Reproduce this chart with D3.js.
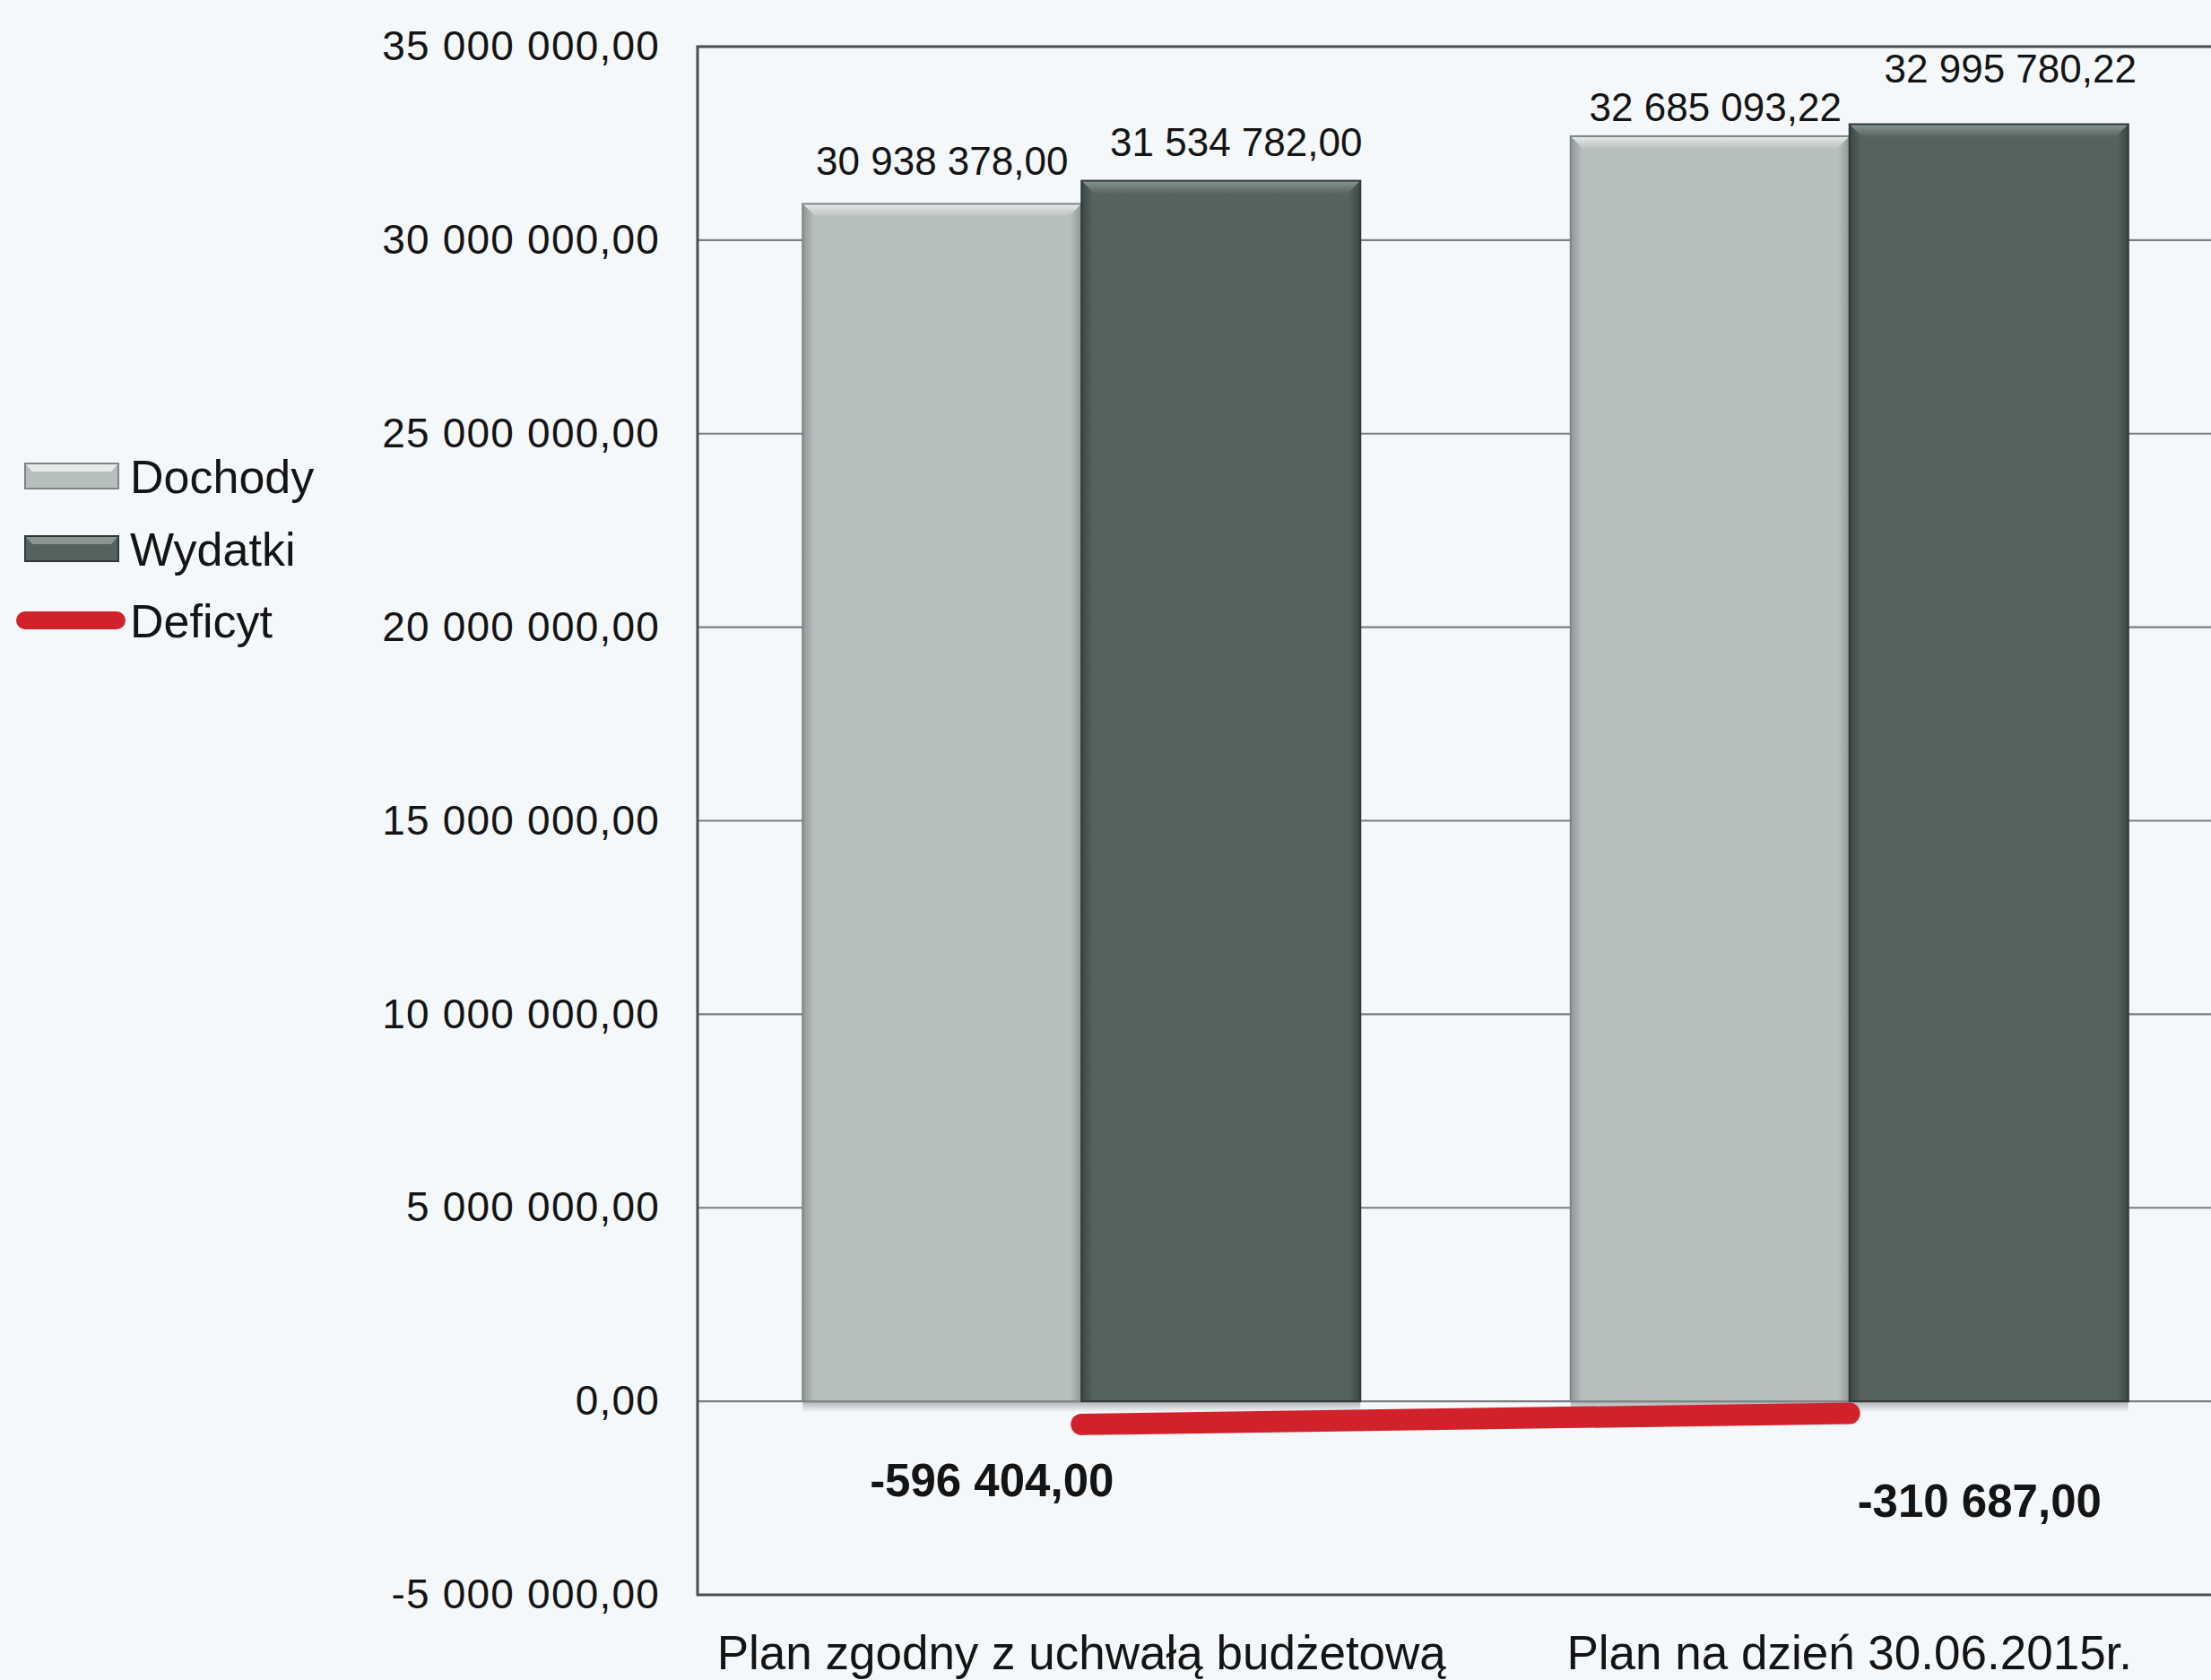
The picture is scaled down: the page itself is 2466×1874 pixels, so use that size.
<!DOCTYPE html>
<html>
<head>
<meta charset="utf-8">
<script src="https://cdn.jsdelivr.net/npm/d3@7"></script>
<style>
  html, body { margin: 0; padding: 0; background: #f5f8fb; }
  svg { display: block; }
  text { font-family: "Liberation Sans", Arial, Helvetica, sans-serif; fill: #141414; }
</style>
</head>
<body>
<svg id="chart" width="2466" height="1874"></svg>
<script>
// Budget plan: revenue, expenditure and resulting deficit
const categories = ["Plan zgodny z uchwałą budżetową", "Plan na dzień 30.06.2015r."];
const seriesNames = ["Dochody", "Wydatki"];
const dochody = [30938378.00, 32685093.22];
const wydatki = [31534782.00, 32995780.22];
const deficyt = [-596404.00, -310687.00];
const yTicks = [-5000000, 0, 5000000, 10000000, 15000000, 20000000, 25000000, 30000000, 35000000];

const W = 2466, H = 1874;
const plot = { left: 778, right: 2491, top: 52, bottom: 1779 };

const svg = d3.select("#chart");

// number format: space thousands separator, comma decimal
const plFmt = d3.formatLocale({ decimal: ",", thousands: "\u00a0", grouping: [3], currency: ["", " zł"] }).format(",.2f");
const fmt = v => plFmt(v).replace(/\u00a0/g, " ").replace("−", "-");

const y = d3.scaleLinear().domain([-5000000, 35000000]).range([plot.bottom, plot.top]);
const x0 = d3.scaleBand().domain(categories).range([plot.left, plot.right]).paddingInner(0).paddingOuter(0);
const x1 = d3.scaleBand().domain(seriesNames).range([0, x0.bandwidth()]).paddingInner(0).paddingOuter(0.377);

const colors = {
  Dochody: { base: "#b7bebe", light: "#e6eaea", dark: "#8e9696", edge: "#7c8484" },
  Wydatki: { base: "#55625f", light: "#8a9592", dark: "#3c4745", edge: "#2f3836" }
};

const defs = svg.append("defs");
for (const s of seriesNames) {
  const c = colors[s];
  const g = defs.append("linearGradient").attr("id", "grad-" + s).attr("x1", 0).attr("x2", 1).attr("y1", 0).attr("y2", 0);
  g.append("stop").attr("offset", "0%").attr("stop-color", c.dark);
  g.append("stop").attr("offset", "4%").attr("stop-color", c.base);
  g.append("stop").attr("offset", "96%").attr("stop-color", c.base);
  g.append("stop").attr("offset", "100%").attr("stop-color", c.dark);
  const t = defs.append("linearGradient").attr("id", "top-" + s).attr("x1", 0).attr("x2", 0).attr("y1", 0).attr("y2", 1);
  t.append("stop").attr("offset", "0%").attr("stop-color", c.light);
  t.append("stop").attr("offset", "100%").attr("stop-color", c.base);
}
const shadow = defs.append("linearGradient").attr("id", "bar-shadow").attr("x1", 0).attr("x2", 0).attr("y1", 0).attr("y2", 1);
shadow.append("stop").attr("offset", "0%").attr("stop-color", "#6d7573").attr("stop-opacity", 0.55);
shadow.append("stop").attr("offset", "100%").attr("stop-color", "#6d7573").attr("stop-opacity", 0);

// background
svg.append("rect").attr("width", W).attr("height", H).attr("fill", "#f5f8fb");

// horizontal gridlines
svg.append("g").selectAll("line")
  .data(yTicks.filter(t => t > -5000000 && t < 35000000))
  .join("line")
  .attr("x1", plot.left).attr("x2", plot.right)
  .attr("y1", d => y(d)).attr("y2", d => y(d))
  .attr("stroke", "#7a7e80").attr("stroke-width", 2.2);

// plot frame
svg.append("rect")
  .attr("x", plot.left).attr("y", plot.top)
  .attr("width", plot.right - plot.left).attr("height", plot.bottom - plot.top)
  .attr("fill", "none").attr("stroke", "#4a4d50").attr("stroke-width", 3);

// y axis labels
const yAxis = d3.axisLeft(y).tickValues(yTicks).tickFormat(fmt).tickSize(0).tickPadding(42);
const ya = svg.append("g").attr("transform", `translate(${plot.left},0)`).call(yAxis);
ya.select(".domain").remove();
ya.selectAll("text")
  .attr("font-size", 46)
  .attr("font-family", "'Liberation Sans', Arial, sans-serif")
  .attr("fill", "#141414")
  .attr("letter-spacing", 1.2);

// bars
const barData = [];
categories.forEach((c, i) => {
  barData.push({ cat: c, series: "Dochody", value: dochody[i] });
  barData.push({ cat: c, series: "Wydatki", value: wydatki[i] });
});

const bevel = 15;
const bars = svg.append("g").selectAll("g").data(barData).join("g")
  .attr("transform", d => `translate(${x0(d.cat) + x1(d.series)},0)`);

bars.append("rect") // soft shadow under the base
  .attr("x", 0).attr("width", x1.bandwidth())
  .attr("y", y(0)).attr("height", 12)
  .attr("fill", "url(#bar-shadow)");
bars.append("rect")
  .attr("x", 0).attr("width", x1.bandwidth())
  .attr("y", d => y(d.value)).attr("height", d => y(0) - y(d.value))
  .attr("fill", d => `url(#grad-${d.series})`);
bars.append("path") // bevelled top edge
  .attr("d", d => {
    const w = x1.bandwidth(), t = y(d.value);
    return `M0,${t} L${w},${t} L${w - bevel},${t + bevel} L${bevel},${t + bevel} Z`;
  })
  .attr("fill", d => `url(#top-${d.series})`);
bars.append("rect")
  .attr("x", 0).attr("width", x1.bandwidth())
  .attr("y", d => y(d.value)).attr("height", d => y(0) - y(d.value))
  .attr("fill", "none")
  .attr("stroke", d => colors[d.series].edge).attr("stroke-width", 2);

// value labels above bars (hand-placed nudges)
const valueLabelNudge = [[0, 47], [17, 43], [6, 32], [24, 62]];
svg.append("g").selectAll("text").data(barData).join("text")
  .attr("x", (d, i) => x0(d.cat) + x1(d.series) + x1.bandwidth() / 2 + valueLabelNudge[i][0])
  .attr("y", (d, i) => y(d.value) - valueLabelNudge[i][1] + 15)
  .attr("text-anchor", "middle")
  .attr("font-size", 44)
  .text(d => fmt(d.value));

// deficit line
const defPts = categories.map((c, i) => ({ cat: c, value: deficyt[i] }));
const line = d3.line().x(d => x0(d.cat) + x0.bandwidth() / 2).y(d => y(d.value));
svg.append("path")
  .datum(defPts)
  .attr("d", line)
  .attr("fill", "none")
  .attr("stroke", "#d1212b")
  .attr("stroke-width", 24)
  .attr("stroke-linecap", "round");

// deficit labels
const deficitLabelNudge = [[-100, 80], [145, 115]];
svg.append("g").selectAll("text").data(defPts).join("text")
  .attr("x", (d, i) => x0(d.cat) + x0.bandwidth() / 2 + deficitLabelNudge[i][0])
  .attr("y", (d, i) => y(d.value) + deficitLabelNudge[i][1])
  .attr("text-anchor", "middle")
  .attr("font-size", 51)
  .attr("font-weight", "bold")
  .text(d => fmt(d.value));

// category labels
const xAxis = d3.axisBottom(x0).tickSize(0).tickPadding(0);
const xa = svg.append("g").attr("transform", `translate(0,${plot.bottom})`).call(xAxis);
xa.select(".domain").remove();
xa.selectAll("text")
  .attr("font-size", 53)
  .attr("font-family", "'Liberation Sans', Arial, sans-serif")
  .attr("fill", "#141414")
  .attr("dy", null)
  .attr("y", 83);

// legend
const legend = svg.append("g");
const legendItems = [
  { name: "Dochody", kind: "bar", y: 531 },
  { name: "Wydatki", kind: "bar", y: 612 },
  { name: "Deficyt", kind: "line", y: 692 }
];
legendItems.forEach(it => {
  if (it.kind === "bar") {
    const c = colors[it.name];
    legend.append("rect").attr("x", 28).attr("y", it.y - 14).attr("width", 104).attr("height", 28)
      .attr("fill", c.base).attr("stroke", c.edge).attr("stroke-width", 2);
    legend.append("path")
      .attr("d", `M29,${it.y - 13} L131,${it.y - 13} L124,${it.y - 5} L36,${it.y - 5} Z`)
      .attr("fill", c.light);
  } else {
    legend.append("line").attr("x1", 28).attr("x2", 130).attr("y1", it.y).attr("y2", it.y)
      .attr("stroke", "#d1212b").attr("stroke-width", 20).attr("stroke-linecap", "round");
  }
  legend.append("text").attr("x", 145).attr("y", it.y + 19).attr("font-size", 52).text(it.name);
});
</script>
</body>
</html>
